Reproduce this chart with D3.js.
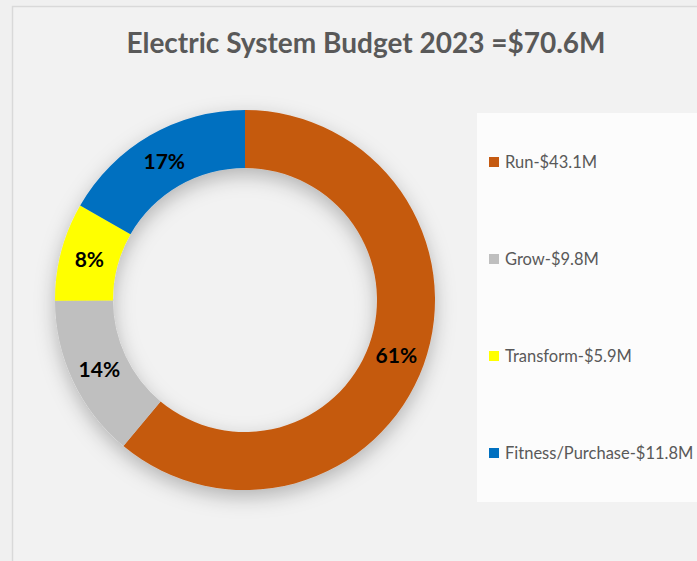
<!DOCTYPE html>
<html>
<head>
<meta charset="utf-8">
<script src="https://cdn.jsdelivr.net/npm/d3@7"></script>
<style>
  html, body { margin: 0; padding: 0; background: #f0f0f0; }
  svg { display: block; }
</style>
</head>
<body>
<script>
// Budget categories and values ($M)
const categories = ["Run", "Grow", "Transform", "Fitness/Purchase"];
const values = [43.1, 9.8, 5.9, 11.8];
const percentLabels = ["61%", "14%", "8%", "17%"];
const legendLabels = ["Run-$43.1M", "Grow-$9.8M", "Transform-$5.9M", "Fitness/Purchase-$11.8M"];
const colors = ["#C55A11", "#BFBFBF", "#FFFF00", "#0070C0"];
const titleText = "Electric System Budget 2023 =$70.6M";

const W = 697, H = 561;
const svg = d3.select("body").append("svg").attr("width", W).attr("height", H);

const defs = svg.append("defs");
const shadow = defs.append("filter").attr("id", "ringShadow")
  .attr("x", "-30%").attr("y", "-30%").attr("width", "160%").attr("height", "160%");
shadow.append("feDropShadow")
  .attr("dx", 0).attr("dy", 7).attr("stdDeviation", 10)
  .attr("flood-color", "#000").attr("flood-opacity", 0.26);

// Chart frame
svg.append("rect").attr("x", 0).attr("y", 0).attr("width", W).attr("height", H).attr("fill", "#f0f0f0");
svg.append("rect").attr("x", 12.5).attr("y", 6.5).attr("width", W).attr("height", H)
  .attr("fill", "#f2f2f2").attr("stroke", "#d9d9d9").attr("stroke-width", 1.5);

// Title
svg.append("text")
  .attr("x", 366).attr("y", 53)
  .attr("text-anchor", "middle")
  .attr("font-family", "Lato, 'Open Sans', sans-serif")
  .attr("font-weight", "bold")
  .attr("font-size", 28)
  .attr("fill", "#595959")
  .text(titleText);

// Donut
const cx = 245, cy = 300, outerR = 190, innerR = 132;
const pie = d3.pie().sort(null).value(d => d)(values);
const arc = d3.arc().innerRadius(innerR).outerRadius(outerR);

const g = svg.append("g").attr("transform", `translate(${cx},${cy})`);
g.append("g").attr("filter", "url(#ringShadow)")
  .selectAll("path").data(pie).join("path")
  .attr("d", arc)
  .attr("fill", (d, i) => colors[i]);

g.selectAll("text.pct").data(pie).join("text")
  .attr("class", "pct")
  .attr("transform", d => `translate(${arc.centroid(d)})`)
  .attr("text-anchor", "middle")
  .attr("dominant-baseline", "central")
  .attr("font-family", "Lato, 'Open Sans', sans-serif")
  .attr("font-weight", "bold")
  .attr("font-size", 21)
  .attr("fill", "#000")
  .text((d, i) => percentLabels[i]);

// Legend
svg.append("rect").attr("x", 477).attr("y", 113).attr("width", W - 477).attr("height", 389)
  .attr("fill", "#fcfcfc");

const legendY = d3.scalePoint().domain(categories).range([162, 453]);
const lg = svg.append("g").selectAll("g").data(categories).join("g")
  .attr("transform", d => `translate(489,${legendY(d)})`);
lg.append("rect").attr("x", 0).attr("y", -5).attr("width", 10).attr("height", 10)
  .attr("fill", (d, i) => colors[i]);
lg.append("text")
  .attr("x", 16).attr("y", 0)
  .attr("dominant-baseline", "central")
  .attr("font-family", "Lato, 'Open Sans', sans-serif")
  .attr("font-size", 16.5)
  .attr("fill", "#595959")
  .text((d, i) => legendLabels[i]);
</script>
</body>
</html>
